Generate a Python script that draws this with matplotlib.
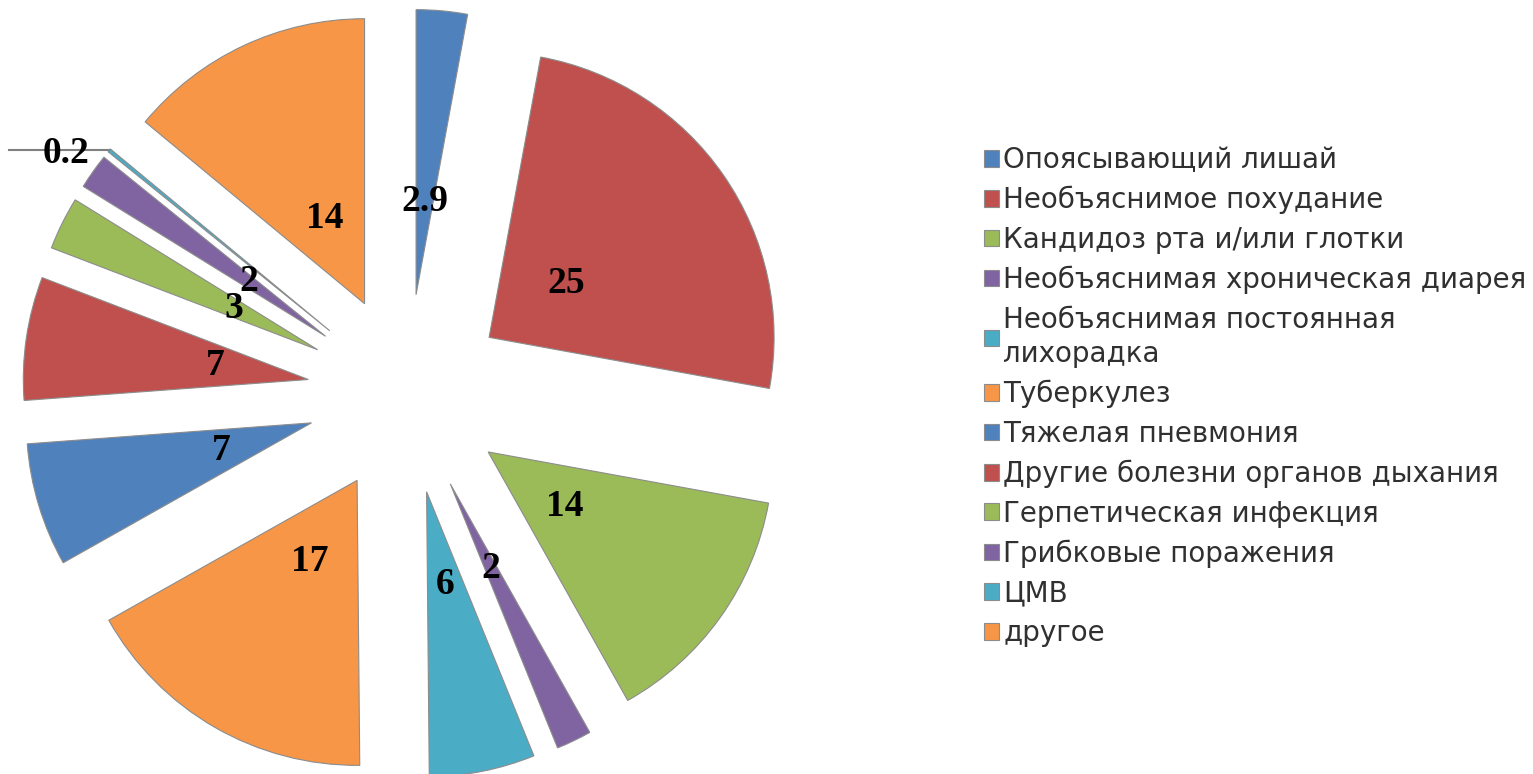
import matplotlib.pyplot as plt
import numpy as np

# Data (clockwise from 12 o'clock)
categories = [
    "Опоясывающий лишай",
    "Необъяснимое похудание",
    "Кандидоз рта и/или глотки",
    "Необъяснимая хроническая диарея",
    "Необъяснимая постоянная\nлихорадка",
    "Туберкулез",
    "Тяжелая пневмония",
    "Другие болезни органов дыхания",
    "Герпетическая инфекция",
    "Грибковые поражения",
    "ЦМВ",
    "другое",
]
values = [2.9, 25, 14, 2, 6, 17, 7, 7, 3, 2, 0.2, 14]
value_labels = ["2.9", "25", "14", "2", "6", "17", "7", "7", "3", "2", "0.2", "14"]

# Excel 2007 default palette, repeated
PALETTE = ["#4F81BD", "#C0504D", "#9BBB59", "#8064A2", "#4BACC6", "#F79646"]
colors = [PALETTE[i % len(PALETTE)] for i in range(len(values))]

W, H = 1533, 774
CX, CY, R = 407, 394, 285  # pie centre and radius in pixels

fig = plt.figure(figsize=(W / 100, H / 100), dpi=100)
ax_w = 800
ax = fig.add_axes([0, 0, ax_w / W, 1])

wedges, texts, autotexts = ax.pie(
    values,
    colors=colors,
    startangle=90,
    counterclock=False,
    explode=[0.35] * len(values),
    autopct="%1.1f",
    pctdistance=0.33,
    wedgeprops=dict(edgecolor="#8c8c8c", linewidth=0.8),
    textprops=dict(family=["Liberation Serif"], fontweight="bold",
                   fontsize=27, color="black"),
)
for t, lab in zip(autotexts, value_labels):
    t.set_text(lab)

# the tiny 0.2 slice gets a leader line with the label sitting on it
small = wedges[10]
mid = np.deg2rad((small.theta1 + small.theta2) / 2)
ox = small.center[0] + small.r * np.cos(mid)
oy = small.center[1] + small.r * np.sin(mid)
ax.plot([ox - 0.35, ox], [oy, oy], color="#808080", linewidth=1.5)
autotexts[10].set_position((ox - 0.15, oy - 0.01))
autotexts[10].set_ha("center")
autotexts[10].set_va("center")

ax.set_xlim(-CX / R, (ax_w - CX) / R)
ax.set_ylim(-(H - CY) / R, CY / R)
ax.set_aspect("equal")
ax.axis("off")

leg = fig.legend(
    wedges, categories,
    loc="upper left",
    bbox_to_anchor=(984 / W, 1 - 146 / H),
    frameon=False,
    prop=dict(family=["DejaVu Sans"], size=20),
    labelcolor="#303030",
    handlelength=0.55,
    handleheight=0.55,
    handletextpad=0.15,
    labelspacing=0.42,
    borderpad=0,
    borderaxespad=0,
)
for t in leg.get_texts():
    t.set_linespacing(1.3)

fig.savefig("out.png", dpi=100, facecolor="white")
